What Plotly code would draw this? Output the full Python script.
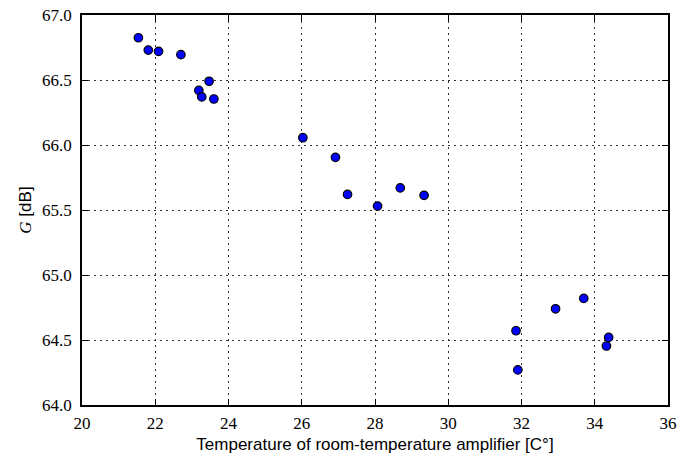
import plotly.graph_objects as go

temperature = [21.54, 21.81, 22.09, 22.70, 23.47, 23.19, 23.27, 23.60, 26.03,
               26.92, 27.25, 28.07, 28.69, 29.34,
               31.85, 31.90, 32.93, 33.70, 34.38, 34.32]
gain_db = [66.825, 66.73, 66.72, 66.695, 66.49, 66.42, 66.37, 66.354, 66.056,
           65.905, 65.62, 65.53, 65.67, 65.613,
           64.571, 64.27, 64.74, 64.82, 64.52, 64.454]

x_ticks = [20, 22, 24, 26, 28, 30, 32, 34, 36]
y_ticks = [64.0, 64.5, 65.0, 65.5, 66.0, 66.5, 67.0]

serif = "Liberation Serif"
sans = "Liberation Sans"


def serif_label(s):
    return f"<span style='font-family:{serif}'>{s}</span>"


fig = go.Figure()
fig.add_trace(go.Scatter(
    x=temperature, y=gain_db, mode="markers",
    marker=dict(size=8.5, color="#0000ff", line=dict(color="black", width=1.2)),
    showlegend=False,
))

axis_common = dict(
    showline=True, linecolor="black", linewidth=1.5, mirror="ticks",
    ticks="inside", ticklen=6, tickwidth=1, tickcolor="black",
    showgrid=True, gridcolor="#333333", griddash="2px,4px", gridwidth=1,
    zeroline=False, automargin=False,
    tickfont=dict(family=serif, size=17, color="black"),
)

fig.update_xaxes(
    range=[20, 36], tickvals=x_ticks,
    ticktext=[serif_label(str(t)) for t in x_ticks],
    ticklabelstandoff=2,
    title=dict(text="Temperature of room-temperature amplifier [C°]",
               font=dict(family=sans, size=17, color="black"), standoff=6),
    **axis_common,
)
fig.update_yaxes(
    range=[64, 67], tickvals=y_ticks,
    ticktext=[serif_label(f"{t:.1f}") for t in y_ticks],
    ticklabelstandoff=5,
    title=dict(text=serif_label("<i>G</i>") + " [dB]",
               font=dict(family=sans, size=17, color="black"), standoff=6),
    **axis_common,
)

fig.update_layout(
    width=680, height=461,
    margin=dict(l=82, r=12, t=15, b=56),
    paper_bgcolor="white", plot_bgcolor="white",
    font=dict(family=sans, color="black"),
)

fig.write_html(
    "out.html",
    config={"displayModeBar": False},
    post_script="document.body.style.margin='0';document.body.style.overflow='hidden';",
)
